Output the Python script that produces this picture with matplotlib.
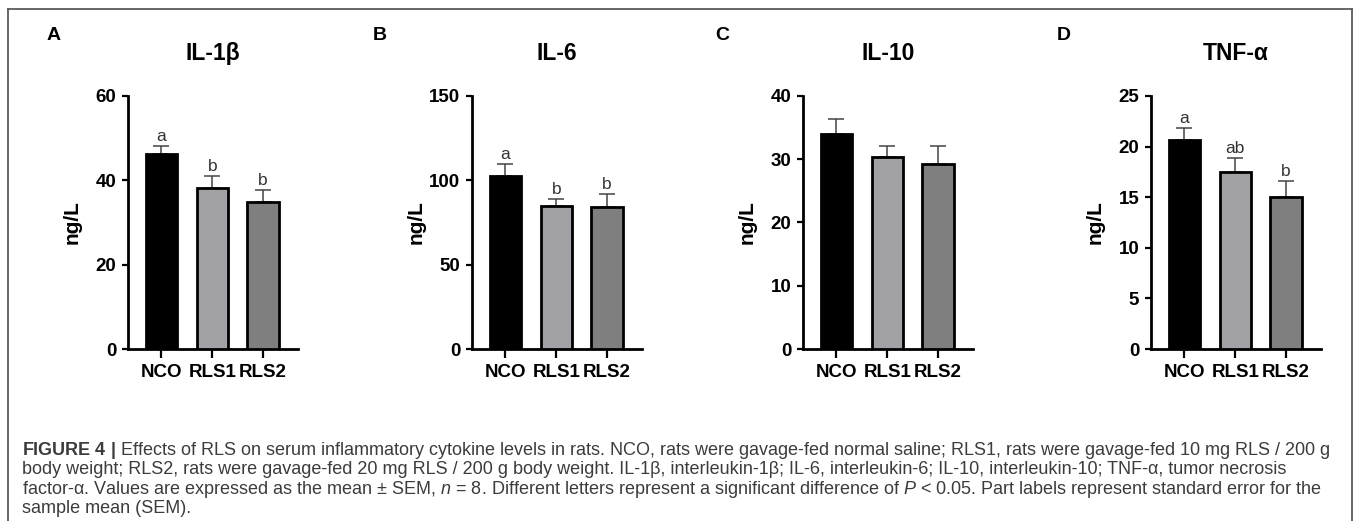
import matplotlib
matplotlib.use("Agg")
import matplotlib.pyplot as plt
from matplotlib.lines import Line2D

plt.rcParams["font.family"] = ["Liberation Sans", "DejaVu Sans"]
plt.rcParams["mathtext.fontset"] = "custom"
plt.rcParams["mathtext.rm"] = "Liberation Sans"
plt.rcParams["mathtext.it"] = "Liberation Sans:italic"
plt.rcParams["mathtext.bf"] = "Liberation Sans:bold"

# data (mean and SEM, ng/L)
groups = ["NCO", "RLS1", "RLS2"]

il1b_mean = [46.2, 38.2, 34.9]
il1b_sem = [1.9, 2.8, 2.8]
il1b_letters = ["a", "b", "b"]

il6_mean = [102.6, 84.8, 84.2]
il6_sem = [7.1, 4.1, 7.7]
il6_letters = ["a", "b", "b"]

il10_mean = [34.0, 30.4, 29.2]
il10_sem = [2.4, 1.7, 2.9]
il10_letters = ["", "", ""]

tnf_mean = [20.7, 17.5, 15.0]
tnf_sem = [1.1, 1.4, 1.6]
tnf_letters = ["a", "ab", "b"]

panel_tags = ["A", "B", "C", "D"]
titles = ["IL-1\u03b2", "IL-6", "IL-10", "TNF-\u03b1"]
y_ticks = [[0, 20, 40, 60], [0, 50, 100, 150], [0, 10, 20, 30, 40], [0, 5, 10, 15, 20, 25]]

caption_lines = [
    "$\\mathbf{FIGURE\\ 4\\ |}$ Effects of RLS on serum inflammatory cytokine levels in rats. NCO, rats were gavage-fed normal saline; RLS1, rats were gavage-fed 10 mg RLS / 200 g",
    "body weight; RLS2, rats were gavage-fed 20 mg RLS / 200 g body weight. IL-1\u03b2, interleukin-1\u03b2; IL-6, interleukin-6; IL-10, interleukin-10; TNF-\u03b1, tumor necrosis",
    "factor-\u03b1. Values are expressed as the mean \u00b1 SEM, $n$ = 8. Different letters represent a significant difference of $P$ < 0.05. Part labels represent standard error for the",
    "sample mean (SEM).",
]

bar_colors = ["#000000", "#a2a2a6", "#7f7f7f"]

W, H = 1357, 521
fig = plt.figure(figsize=(W / 100, H / 100), dpi=100)


def px_rect(left, right, top, bottom):
    return [left / W, 1 - bottom / H, (right - left) / W, (bottom - top) / H]


panels = [
    (il1b_mean, il1b_sem, il1b_letters),
    (il6_mean, il6_sem, il6_letters),
    (il10_mean, il10_sem, il10_letters),
    (tnf_mean, tnf_sem, tnf_letters),
]
axis_left = [128, 472, 803, 1151]
tag_x = [54, 380, 722, 1064]

for k, (means, sems, letters) in enumerate(panels):
    ax = fig.add_axes(px_rect(axis_left[k], axis_left[k] + 170, 96, 349))
    x = list(range(len(groups)))
    ax.errorbar(x, means, yerr=[[0] * len(sems), sems], fmt="none", ecolor="#444444",
                elinewidth=1.1, capsize=6, capthick=1.1, zorder=2)
    ax.bar(x, means, width=0.62, color=bar_colors, edgecolor="black", linewidth=2.0, zorder=3)
    for i, lab in enumerate(letters):
        if lab:
            ax.annotate(lab, (i, means[i] + sems[i]), xytext=(0, 1.5), textcoords="offset points",
                        ha="center", va="bottom", fontsize=12.5, color="#333333")
    ax.set_xlim(-0.66, 2.69)
    ax.set_ylim(0, y_ticks[k][-1])
    ax.set_yticks(y_ticks[k])
    ax.set_xticks(x, groups)
    for s in ["top", "right"]:
        ax.spines[s].set_visible(False)
    for s in ["left", "bottom"]:
        ax.spines[s].set_linewidth(2.0)
    ax.tick_params(axis="x", width=1.6, length=6.5, labelsize=13.5, pad=4)
    ax.tick_params(axis="y", width=1.6, length=4.5, labelsize=13.5, pad=4)
    for t in ax.get_xticklabels() + ax.get_yticklabels():
        t.set_fontweight("bold")
    ax.set_ylabel("ng/L", fontweight="bold", fontsize=15)
    ax.yaxis.set_label_coords(-0.27, 0.5)
    ax.set_title(titles[k], fontweight="bold", fontsize=16.5, pad=26)
    fig.text(tag_x[k] / W, 1 - 35 / H, panel_tags[k], ha="center", va="center",
             fontweight="bold", fontsize=14)

# caption, fitted to the width of the first line
cap_base = [455, 474.5, 494, 513]
cap_texts = []
for i, line in enumerate(caption_lines):
    cap_texts.append(fig.text(22 / W, 1 - cap_base[i] / H, line, ha="left", va="baseline",
                              fontsize=11, color="#3c3c3c"))
renderer = fig.canvas.get_renderer()
w0 = cap_texts[0].get_window_extent(renderer).width
w2 = cap_texts[2].get_window_extent(renderer).width
scale = min(1306 / w0, 1303 / w2)
for t in cap_texts:
    t.set_fontsize(11 * scale)

# frame around the figure
frame = dict(transform=fig.transFigure, color="#5a5a5a", lw=1.3)
fig.add_artist(Line2D([8 / W, 8 / W], [0, 1 - 9 / H], **frame))
fig.add_artist(Line2D([1352 / W, 1352 / W], [0, 1 - 9 / H], **frame))
fig.add_artist(Line2D([8 / W, 1352 / W], [1 - 9 / H, 1 - 9 / H], **frame))

fig.savefig("out.png", dpi=100)
